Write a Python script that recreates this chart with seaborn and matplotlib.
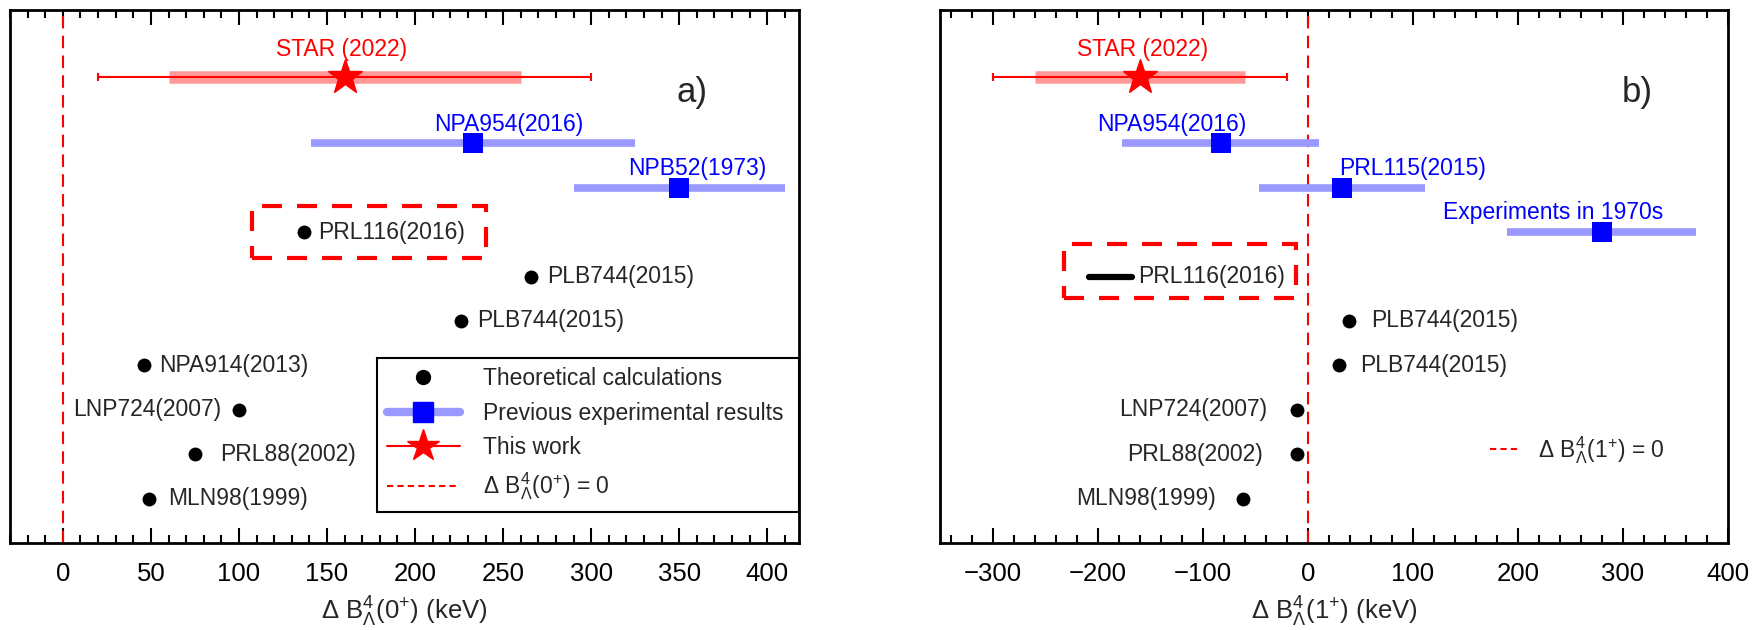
import numpy as np
import pandas as pd
import seaborn as sns
import matplotlib
matplotlib.use('Agg')
import matplotlib.pyplot as plt
from matplotlib.lines import Line2D
from matplotlib.patches import Rectangle
from matplotlib.ticker import MultipleLocator

# ---- panel a) : Delta B(0+) ----
theo0_names = ['PRL116(2016)', 'PLB744(2015)', 'PLB744(2015)', 'NPA914(2013)',
               'LNP724(2007)', 'PRL88(2002)', 'MLN98(1999)']
theo0_vals = [137, 266, 226, 46, 100, 75, 49]
theo0_rows = [7, 6, 5, 4, 3, 2, 1]

exp0_names = ['NPA954(2016)', 'NPB52(1973)']
exp0_vals = [233, 350]
exp0_errs = [92, 60]
exp0_rows = [9, 8]
exp0_label_x = [253, 360]

star0_val, star0_stat, star0_syst = 160, 140, 100

# ---- panel b) : Delta B(1+) ----
theo1_names = ['PLB744(2015)', 'PLB744(2015)', 'LNP724(2007)', 'PRL88(2002)', 'MLN98(1999)']
theo1_vals = [39, 30, -10, -10, -62]
theo1_rows = [5, 4, 3, 2, 1]

prl116_range1 = [-208, -167]   # PRL116(2016) band in panel b)

exp1_names = ['NPA954(2016)', 'PRL115(2015)', 'Experiments in 1970s']
exp1_vals = [-83, 33, 280]
exp1_errs = [94, 79, 90]
exp1_rows = [9, 8, 7]
exp1_label_x = [-129, 100, 234]

star1_val, star1_stat, star1_syst = -160, 140, 100

STAR_ROW = 10.5

sns.set_theme(style='ticks')
plt.rcParams['font.family'] = ['Liberation Sans', 'DejaVu Sans']
plt.rcParams['mathtext.fontset'] = 'custom'
plt.rcParams['mathtext.rm'] = 'Liberation Sans'
plt.rcParams['mathtext.it'] = 'Liberation Sans:italic'

RED = '#ff0000'
LRED = '#ff9999'
BLUE = '#0000ff'
LBLUE = '#9999ff'
FS = 16.5

fig = plt.figure(figsize=(17.54, 6.3), dpi=100)
axa = fig.add_axes([10 / 1754, 1 - 543 / 630, (799 - 10) / 1754, (543 - 10) / 630])
axb = fig.add_axes([940 / 1754, 1 - 543 / 630, (1728 - 940) / 1754, (543 - 10) / 630])


def style_axis(ax, xlim, major, minor, xlabel):
    ax.set_xlim(*xlim)
    ax.set_ylim(0, 12)
    ax.xaxis.set_major_locator(MultipleLocator(major))
    ax.xaxis.set_minor_locator(MultipleLocator(minor))
    ax.set_yticks([])
    ax.tick_params(axis='x', which='both', direction='in', top=True, bottom=True,
                   labelsize=18.5, pad=14, colors='black')
    ax.tick_params(axis='x', which='major', length=11, width=1.5)
    ax.tick_params(axis='x', which='minor', length=6, width=1.5)
    for s in ax.spines.values():
        s.set_linewidth(2)
        s.set_color('black')
    ax.set_xlabel(xlabel, fontsize=18.5, labelpad=6)
    ax.set_ylabel('')


def draw_star(ax, val, stat, syst, label_x):
    ax.hlines(STAR_ROW, val - syst, val + syst, color=LRED, lw=9, zorder=2)
    ax.errorbar([val], [STAR_ROW], xerr=[stat], fmt='none', ecolor=RED, elinewidth=1.5,
                capsize=3, capthick=1.5, zorder=3)
    ax.plot([val], [STAR_ROW], marker='*', ms=26, color=RED, mec=RED, ls='none', zorder=4)
    ax.text(label_x, 11.12, 'STAR (2022)', color=RED, fontsize=FS, ha='center', va='center')


def draw_exp(ax, names, vals, errs, rows, label_x):
    df = pd.DataFrame({'x': vals, 'y': rows})
    ax.hlines(rows, np.array(vals) - np.array(errs), np.array(vals) + np.array(errs),
              color=LBLUE, lw=5.5, zorder=2)
    sns.scatterplot(data=df, x='x', y='y', ax=ax, marker='s', s=210, color=BLUE,
                    edgecolor=BLUE, linewidth=0, zorder=3, legend=False)
    for n, lx, r in zip(names, label_x, rows):
        ax.text(lx, r + 0.43, n, color=BLUE, fontsize=FS, ha='center', va='center')


def draw_theory(ax, names, vals, rows, offsets):
    df = pd.DataFrame({'x': vals, 'y': rows})
    sns.scatterplot(data=df, x='x', y='y', ax=ax, marker='o', s=100, color='black',
                    edgecolor='black', linewidth=0, zorder=3, legend=False)
    for n, v, r, off in zip(names, vals, rows, offsets):
        ax.annotate(n, (v, r), xytext=(off, 0), textcoords='offset pixels',
                    ha='left' if off > 0 else 'right', va='center', fontsize=FS)


# ---------------- panel a ----------------
axa.axvline(0, color=RED, lw=1.5, ls=(0, (6, 3.5)), zorder=1)
draw_star(axa, star0_val, star0_stat, star0_syst, 158)
draw_exp(axa, exp0_names, exp0_vals, exp0_errs, exp0_rows, exp0_label_x)
draw_theory(axa, theo0_names, theo0_vals, theo0_rows, [14, 16, 16, 15, -18, 25, 19])
axa.add_patch(Rectangle((107.5, 6.42), 240 - 107.5, 7.59 - 6.42, fill=False,
                        edgecolor=RED, lw=3, ls=(0, (4.8, 3.6)), zorder=5))
axa.text(357, 10.15, 'a)', fontsize=25, ha='center', va='center')
style_axis(axa, (-30, 418), 50, 10, 'Δ B$^{4}_{\\Lambda}$(0$^{+}$) (keV)')

handles = [
    Line2D([], [], ls='none', marker='o', color='black', ms=10),
    Line2D([], [], color=LBLUE, lw=6, marker='s', mfc=BLUE, mec=BLUE, ms=14),
    Line2D([], [], color=RED, lw=1.5, marker='*', ms=24, mfc=RED, mec=RED),
    Line2D([], [], color=RED, lw=1.5, ls=(0, (3, 2))),
]
labels = ['Theoretical calculations', 'Previous experimental results', 'This work',
          'Δ B$^{4}_{\\Lambda}$(0$^{+}$) = 0']
leg = axa.legend(handles, labels, loc='lower left', bbox_to_anchor=(0.465, 0.058, 0.535, 0.29),
                 mode='expand', fontsize=FS, frameon=True, fancybox=False, framealpha=1,
                 edgecolor='black', handlelength=3.2, handletextpad=1.0, labelspacing=0.5,
                 borderpad=0.42, borderaxespad=0)
leg.get_frame().set_linewidth(1.5)

# ---------------- panel b ----------------
axb.axvline(0, color=RED, lw=1.5, ls=(0, (6, 3.5)), zorder=1)
draw_star(axb, star1_val, star1_stat, star1_syst, -157)
draw_exp(axb, exp1_names, exp1_vals, exp1_errs, exp1_rows, exp1_label_x)
draw_theory(axb, theo1_names, theo1_vals, theo1_rows, [22, 21, -30, -34, -27])
axb.plot(prl116_range1, [6, 6], color='black', lw=4.5, solid_capstyle='round', zorder=3)
axb.annotate('PRL116(2016)', (prl116_range1[1], 6), xytext=(6, 0), textcoords='offset pixels',
             ha='left', va='center', fontsize=FS)
axb.add_patch(Rectangle((-232, 5.52), -11.4 + 232, 6.74 - 5.52, fill=False,
                        edgecolor=RED, lw=3, ls=(0, (4.8, 3.6)), zorder=5))
axb.text(314, 10.15, 'b)', fontsize=25, ha='center', va='center')
style_axis(axb, (-350, 400), 100, 20, 'Δ B$^{4}_{\\Lambda}$(1$^{+}$) (keV)')

legb = axb.legend([Line2D([], [], color=RED, lw=1.5, ls=(0, (3, 2)))],
                  ['Δ B$^{4}_{\\Lambda}$(1$^{+}$) = 0'], loc='center left',
                  bbox_to_anchor=(0.698, 0.175), fontsize=FS, frameon=False,
                  handlelength=1.3, handletextpad=0.8, borderaxespad=0, borderpad=0)

fig.savefig('out.png', dpi=100)
